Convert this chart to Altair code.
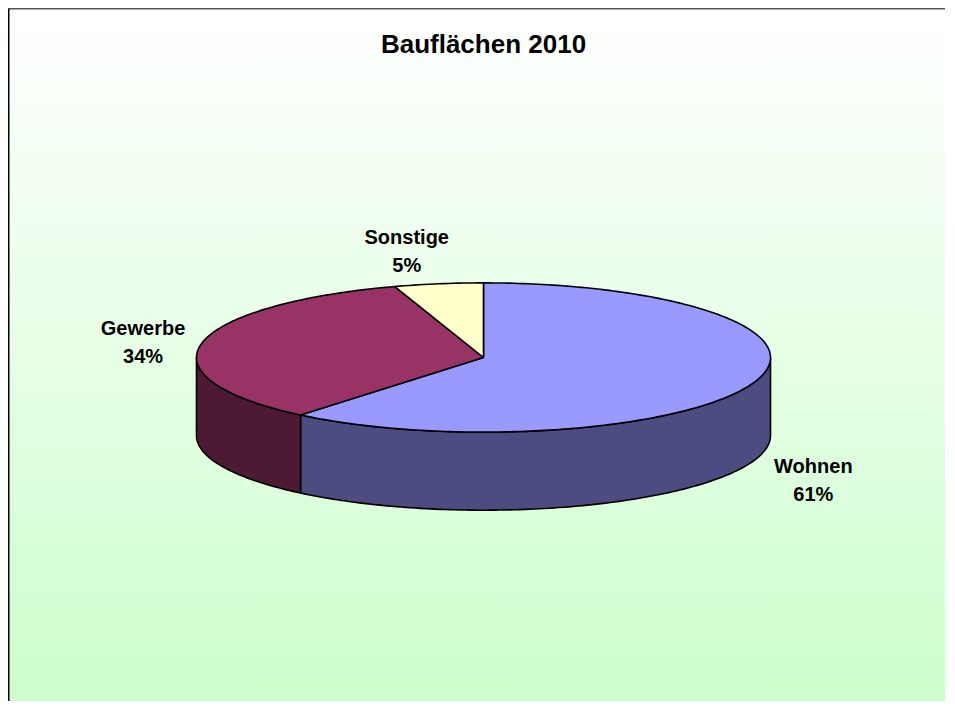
import math
import numpy as np
import pandas as pd
import altair as alt

# ---- data -------------------------------------------------------------
categories = ["Wohnen", "Gewerbe", "Sonstige"]
shares = [61, 34, 5]
top_colors = ["#9999FF", "#993366", "#FFFFCC"]
side_colors = ["#4C4C80", "#4D1A33", "#80806A"]
title_text = "Bauflächen 2010"

# ---- geometry of the tilted pie (derived from the shares) --------------
RY = 0.26        # vertical squash of the top ellipse
DEPTH = 0.272    # thickness of the pie
LINE_H = 28      # label line height in px


def ellipse_pts(a0, a1, dy=0.0):
    n = max(2, int(math.ceil(abs(a1 - a0))) + 1)
    ts = np.radians(np.linspace(a0, a1, n))
    return [(float(np.sin(t)), float(RY * np.cos(t) - dy)) for t in ts]


# ---- chart frame -------------------------------------------------------
W, H = 937, 693
PX = 287.0
CX, CY = 475.5, 349.5
xdom = [-CX / PX, (W - CX) / PX]
ydom = [-(H - CY) / PX, CY / PX]

total = float(sum(shares))
bounds = []
acc = 0.0
for s in shares:
    a0 = acc / total * 360.0
    acc += s
    a1 = acc / total * 360.0
    bounds.append((a0, a1))

top_rows, side_rows, label_rows = [], [], []
for i, (cat, (a0, a1)) in enumerate(zip(categories, bounds)):
    # top face
    pts = [(0.0, 0.0)] + ellipse_pts(a0, a1) + [(0.0, 0.0)]
    for k, (x, y) in enumerate(pts):
        top_rows.append({"poly": cat, "ord": k, "x": x, "y": y, "fill": top_colors[i]})
    # visible outer wall (front half of the ellipse: 90..270 deg)
    lo, hi = max(a0, 90.0), min(a1, 270.0)
    if hi > lo:
        up = ellipse_pts(lo, hi)
        down = ellipse_pts(hi, lo, dy=DEPTH)
        pts = up + down + [up[0]]
        for k, (x, y) in enumerate(pts):
            side_rows.append({"poly": cat, "ord": k, "x": x, "y": y, "fill": side_colors[i]})
    # label outside the slice
    mid = math.radians((a0 + a1) / 2.0)
    c, s_ = math.cos(mid), math.sin(mid)
    lx = 1.192 * s_ - 0.082 * c
    ly = (1.43 * RY * c - (DEPTH if c < 0 else 0.0) - 0.025 * (1 - c)
          + (LINE_H / 2.0) / PX)
    label_rows.append({"x": lx, "y": ly, "label": f"{cat}\n{shares[i]}%"})

top_df = pd.DataFrame(top_rows)
side_df = pd.DataFrame(side_rows)
label_df = pd.DataFrame(label_rows)
title_df = pd.DataFrame({"x": [0.0], "y": [ydom[1] - 45.0 / PX], "t": [title_text]})

xs = alt.Scale(domain=xdom, nice=False, zero=False)
ys = alt.Scale(domain=ydom, nice=False, zero=False)

gradient = alt.LinearGradient(
    gradient="linear",
    stops=[alt.GradientStop(color="#FFFFFF", offset=0),
           alt.GradientStop(color="#CCFFCC", offset=1)],
    x1=0, x2=0, y1=0, y2=1,
)

background = alt.Chart(pd.DataFrame({"a": [0]})).mark_rect(fill=gradient).encode(
    x=alt.value(0), x2=alt.value("width"), y=alt.value(0), y2=alt.value("height")
)

x_axis = alt.Axis(orient="top", labels=False, ticks=False, grid=False, title=None,
                  domainColor="#555555", domainWidth=2, zindex=2)
y_axis = alt.Axis(orient="left", labels=False, ticks=False, grid=False, title=None,
                  domainColor="#000000", domainWidth=2, zindex=2)

sides = alt.Chart(side_df).mark_line(
    filled=True, stroke="black", strokeWidth=1.6, strokeJoin="round"
).encode(
    x=alt.X("x:Q", scale=xs, axis=x_axis),
    y=alt.Y("y:Q", scale=ys, axis=y_axis),
    detail="poly:N",
    order="ord:Q",
    color=alt.Color("fill:N", scale=None),
)

tops = alt.Chart(top_df).mark_line(
    filled=True, stroke="black", strokeWidth=1.6, strokeJoin="round"
).encode(
    x=alt.X("x:Q", scale=xs),
    y=alt.Y("y:Q", scale=ys),
    detail="poly:N",
    order="ord:Q",
    color=alt.Color("fill:N", scale=None),
)

labels = alt.Chart(label_df).mark_text(
    font="Liberation Sans", fontSize=20, fontWeight="bold", color="black",
    lineBreak="\n", lineHeight=LINE_H, align="center", baseline="middle",
).encode(
    x=alt.X("x:Q", scale=xs),
    y=alt.Y("y:Q", scale=ys),
    text="label:N",
)

title = alt.Chart(title_df).mark_text(
    font="Liberation Sans", fontSize=26, fontWeight="bold", color="black",
    align="center", baseline="alphabetic",
).encode(
    x=alt.X("x:Q", scale=xs),
    y=alt.Y("y:Q", scale=ys),
    text="t:N",
)

chart = alt.layer(background, sides, tops, labels, title).properties(
    width=W, height=H, padding=0,
).configure_view(stroke=None)

chart.save("out.html", embed_options={"renderer": "svg", "actions": False})
